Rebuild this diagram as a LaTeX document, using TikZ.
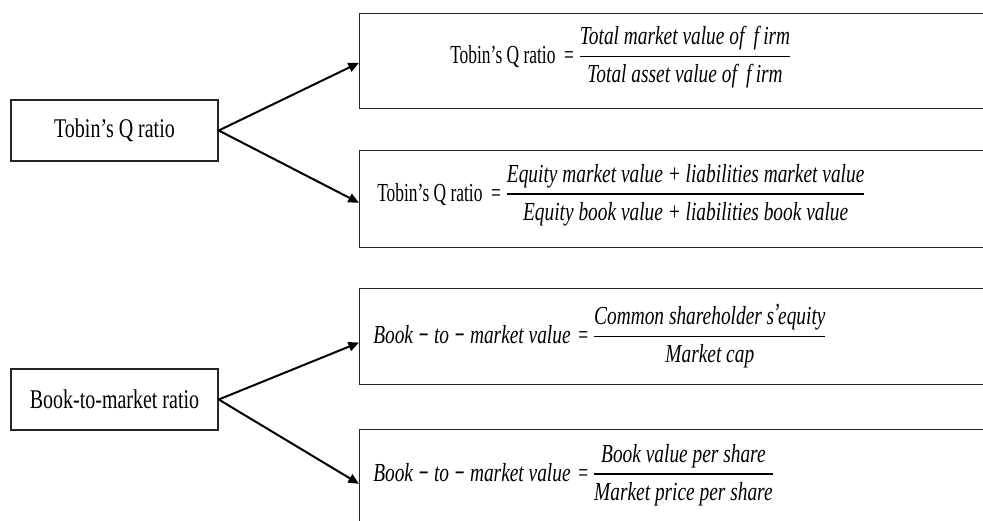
\documentclass[tikz,border=0pt]{standalone}
\usepackage{fontspec}
\usepackage{amsmath}
\usetikzlibrary{arrows.meta,calc}
\newfontfamily\labfont[FakeStretch=0.74]{Liberation Serif}
\newfontfamily\upfont[FakeStretch=0.67]{Liberation Serif}
\newfontfamily\itfont[FakeStretch=0.745]{Liberation Serif}
\newcommand{\myfr}[2]{\genfrac{}{}{1.2pt}{0}{\mbox{\itfont\itshape #1}}{\mbox{\itfont\itshape #2}}}
\newcommand{\mminus}{\hspace{0.2em}{\upfont\bfseries −}\hspace{0.2em}}
\begin{document}
\begin{tikzpicture}[x=0.75pt,y=-0.75pt,
  lbox/.style={draw=black!85, line width=1.1pt, minimum width=155.25pt, minimum height=45.75pt, inner sep=0pt,
     font=\labfont\fontsize{20.25}{23}\selectfont},
  rbox/.style={draw=black!85, line width=1.1pt, minimum width=487.5pt, anchor=north west, inner sep=0pt},
  ftext/.style={anchor=west, inner sep=0pt, font=\fontsize{19.5}{23}\selectfont},
  conn/.style={line width=1.5pt, -{Triangle[length=8pt,width=7pt]}}]
\clip (0,0) rectangle (983,521);
\fill[white] (0,0) rectangle (983,521);
% left boxes
\node[lbox] (tq) at (114.5,130.5) {Tobin’s Q ratio};
\node[lbox] (bm) at (114.5,399.5) {Book-to-market ratio};
% right boxes
\node[rbox, minimum height=71.25pt] (r1) at (359,13) {};
\node[rbox, minimum height=72.75pt] (r2) at (359,150) {};
\node[rbox, minimum height=72pt] (r3) at (359,288) {};
\node[rbox, minimum height=75.75pt] (r4) at (359,429) {};
% formulas
\node[ftext] (f1) at (450,57) {{\upfont Tobin’s Q ratio\ \ =}\,$\myfr{Total market value of \,f\,irm}{Total asset value of \,f\,irm}$};
\node[ftext] (f2) at (377,195) {{\upfont Tobin’s Q ratio\ \ =}\,$\myfr{Equity market value + liabilities market value}{Equity book value + liabilities book value}$};
\node[ftext] (f3) at (373,336) {{\itfont\itshape Book\mminus to\mminus market value} {\upfont =}\,$\myfr{Common shareholder s\kern-0.05em\raisebox{0.25ex}{’}\kern-0.05em equity}{Market cap}$};
\node[ftext] (f4) at (373,475) {{\itfont\itshape Book\mminus to\mminus market value} {\upfont =}\,$\myfr{Book value per share}{Market price per share}$};
% connectors
\draw[conn] (tq.east) -- ($(r1.north west)!0.516!(r1.south west)$);
\draw[conn] (tq.east) -- ($(r2.north west)!0.536!(r2.south west)$);
\draw[conn] (bm.east) -- ($(r3.north west)!0.56!(r3.south west)$);
\draw[conn] (bm.east) -- ($(r4.north west)!0.535!(r4.south west)$);
\end{tikzpicture}
\end{document}
